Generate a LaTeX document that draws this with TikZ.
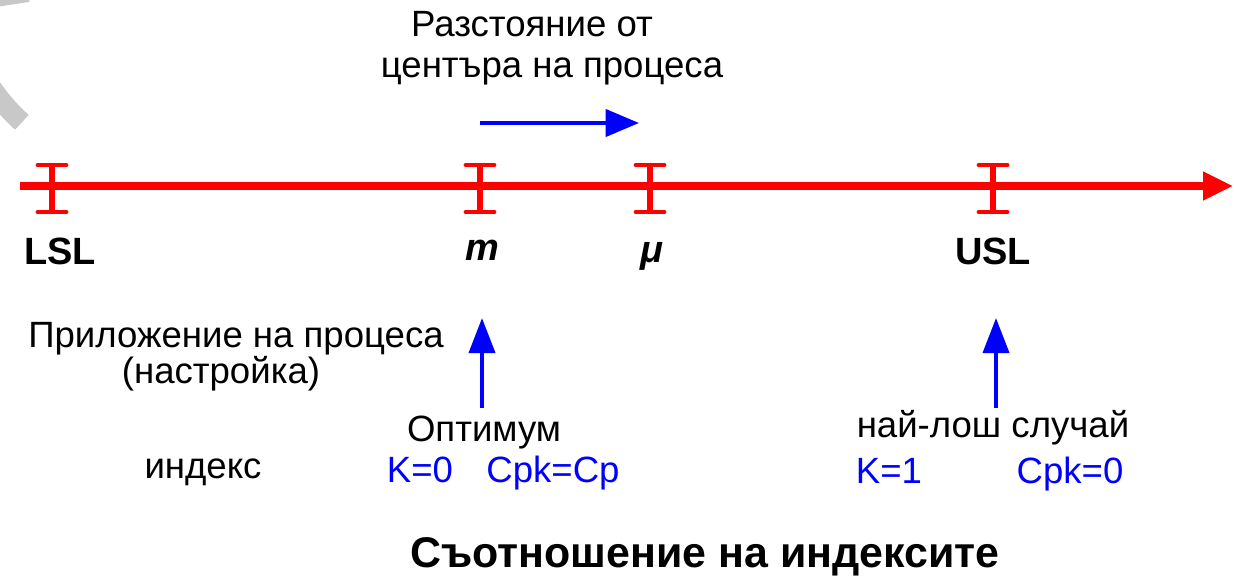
\documentclass[tikz,border=0pt]{standalone}
\usepackage{fontspec}
\setmainfont{Liberation Sans}
\usetikzlibrary{arrows.meta}
\definecolor{redline}{RGB}{255,0,0}
\definecolor{bluel}{RGB}{0,0,255}
\definecolor{wm}{RGB}{200,200,200}
\tikzset{
  txt/.style={inner sep=0pt, anchor=base, font=\fontsize{10.4}{12}\selectfont},
  bluetxt/.style={txt, text=bluel},
  boldlbl/.style={inner sep=0pt, anchor=base, font=\fontsize{10.8}{13}\selectfont\bfseries},
  titletxt/.style={inner sep=0pt, anchor=base, font=\fontsize{12.2}{14}\selectfont\bfseries},
  axisline/.style={draw=redline, line width=2pt, -{Triangle[length=8.5pt,width=7.7pt]}},
  bluearrow/.style={draw=bluel, line width=1.15pt, -{Triangle[length=9.5pt,width=7.7pt]}},
  uparrow/.style={draw=bluel, line width=1.15pt, -{Triangle[length=10pt,width=7.4pt]}},
  wmband/.style={draw=wm, line width=5.7pt},
  ibeam/.pic={
    \draw[redline, line width=1.7pt] (0,-21) -- (0,26);
    \draw[redline, line width=1.4pt, line cap=round] (-14,-21) -- (14,-21) (-14,26) -- (14,26);
  }
}
\begin{document}
\begin{tikzpicture}[x=0.01cm,y=-0.01cm]
\useasboundingbox (0,0) rectangle (1234,579);
% faint watermark pieces
\begin{scope}
  \clip (0,0) rectangle (1234,579);
  \draw[wmband] ([shift={(200:1.914cm)}]150,-20) arc[start angle=200, end angle=228, radius=1.914cm];
  \draw[wmband] (-5,-3) -- (28,-8);
\end{scope}
% axis
\coordinate (axL) at (20,186);
\coordinate (axR) at (1233,186);
\draw[axisline] (axL) -- (axR);
\coordinate (tLSL) at (52,186);
\coordinate (tm) at (480,186);
\coordinate (tmu) at (650,186);
\coordinate (tUSL) at (993,186);
\pic at (tLSL) {ibeam};
\pic at (tm) {ibeam};
\pic at (tmu) {ibeam};
\pic at (tUSL) {ibeam};
% axis labels
\node[boldlbl] (lLSL) at (60,264) {LSL};
\node[boldlbl] (lm) at (482,260) {\itshape m};
\node[boldlbl] (lmu) at (652,262) {\itshape μ};
\node[boldlbl] (lUSL) at (993,264) {USL};
% distance
\node[txt] (dist1) at (532,37) {Разстояние от};
\node[txt] (dist2) at (552,78) {центъра на процеса};
\coordinate (dA) at (480,123);
\coordinate (dB) at (639,123);
\draw[bluearrow] (dA) -- (dB);
% left texts
\node[txt] (app1) at (236,347) {Приложение на процеса};
\node[txt] (app2) at (221,383) {(настройка)};
\node[txt] (idx) at (203,478) {индекс};
% up arrows
\coordinate (o0) at (482,408);
\coordinate (o1) at (482,318);
\draw[uparrow] (o0) -- (o1);
\coordinate (w0) at (996,408);
\coordinate (w1) at (996,318);
\draw[uparrow] (w0) -- (w1);
% bottom texts
\node[txt] (opt) at (484,441) {Оптимум};
\node[bluetxt] (k0) at (420,482) {K=0};
\node[bluetxt] (cpk) at (553,482) {Cpk=Cp};
\node[txt] (worst) at (993,437) {най-лош случай};
\node[bluetxt] (k1) at (889,483) {K=1};
\node[bluetxt] (cpk0) at (1070,483) {Cpk=0};
\node[titletxt] (title) at (705,567) {Съотношение на индексите};
\end{tikzpicture}
\end{document}
